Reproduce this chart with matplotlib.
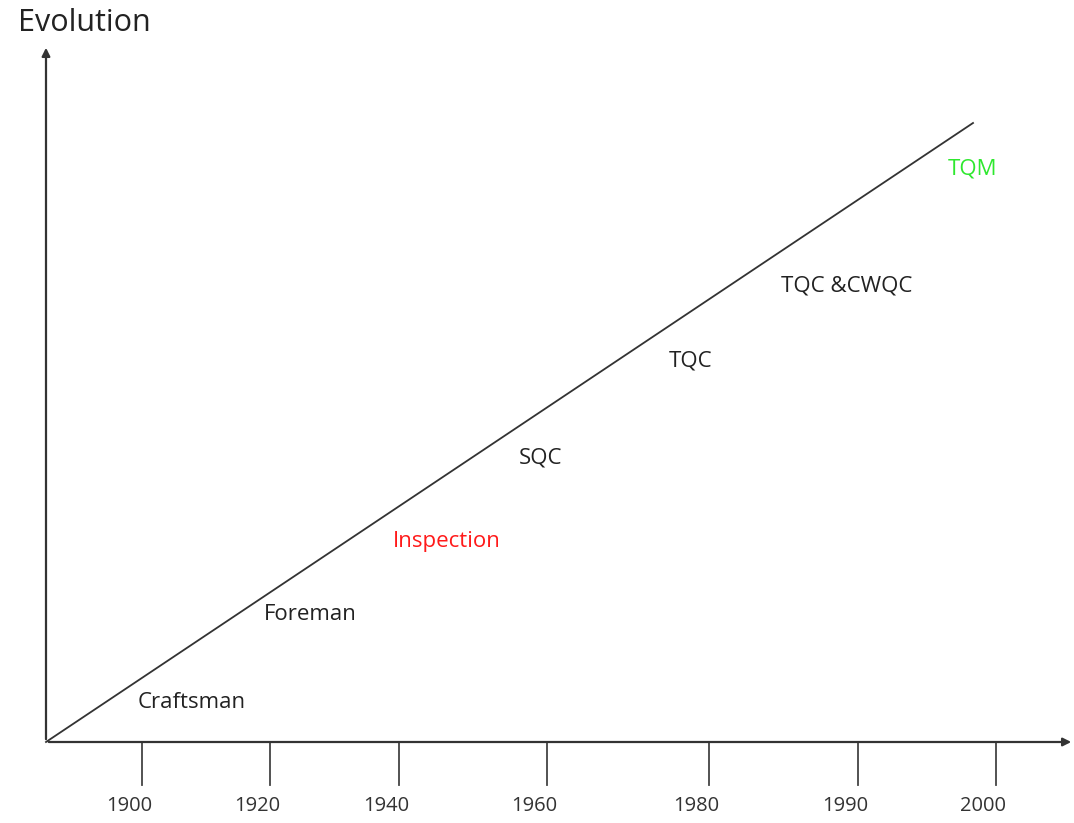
import matplotlib
matplotlib.use('Agg')
import matplotlib.pyplot as plt

# data
years = ['1900', '1920', '1940', '1960', '1980', '1990', '2000']
stages = ['Craftsman', 'Foreman', 'Inspection', 'SQC', 'TQC', 'TQC &CWQC', 'TQM']
stage_colors = ['#222222', '#222222', '#ff1a1a', '#222222', '#222222', '#222222', '#2ee82e']

# layout (pixel coordinates of the picture)
tick_x = [142, 270, 399, 547, 709, 858, 996]
label_xy = [(192, 703), (310, 615), (447, 541), (541, 458), (691, 361), (847, 286), (973, 169)]
origin = (46, 742)

plt.rcParams['font.family'] = ['Open Sans', 'DejaVu Sans']

fig = plt.figure(figsize=(10.74, 8.23), dpi=100)
ax = fig.add_axes([0, 0, 1, 1])
ax.set_xlim(0, 1074)
ax.set_ylim(823, 0)
ax.axis('off')

# axes with arrows
ax.annotate('', xy=(1074, origin[1]), xytext=origin,
            arrowprops=dict(arrowstyle='-|>', color='#333333', lw=1.6, mutation_scale=12))
ax.annotate('', xy=(origin[0], 45), xytext=origin,
            arrowprops=dict(arrowstyle='-|>', color='#333333', lw=1.6, mutation_scale=12))
ax.text(18, 23, 'Evolution', fontsize=22, color='#222222', va='center', ha='left')

# ticks below x axis
for x, yr in zip(tick_x, years):
    ax.plot([x, x], [origin[1], 785], color='#444444', lw=1.3)
    ax.text(x - 13, 806, yr, fontsize=14.5, color='#333333', ha='center', va='center')

# diagonal evolution line
ax.plot([origin[0], 973], [origin[1], 123], color='#333333', lw=1.3)

for (x, y), s, c in zip(label_xy, stages, stage_colors):
    ax.text(x, y, s, fontsize=16, color=c, ha='center', va='center')

fig.savefig('out.png', dpi=100)
